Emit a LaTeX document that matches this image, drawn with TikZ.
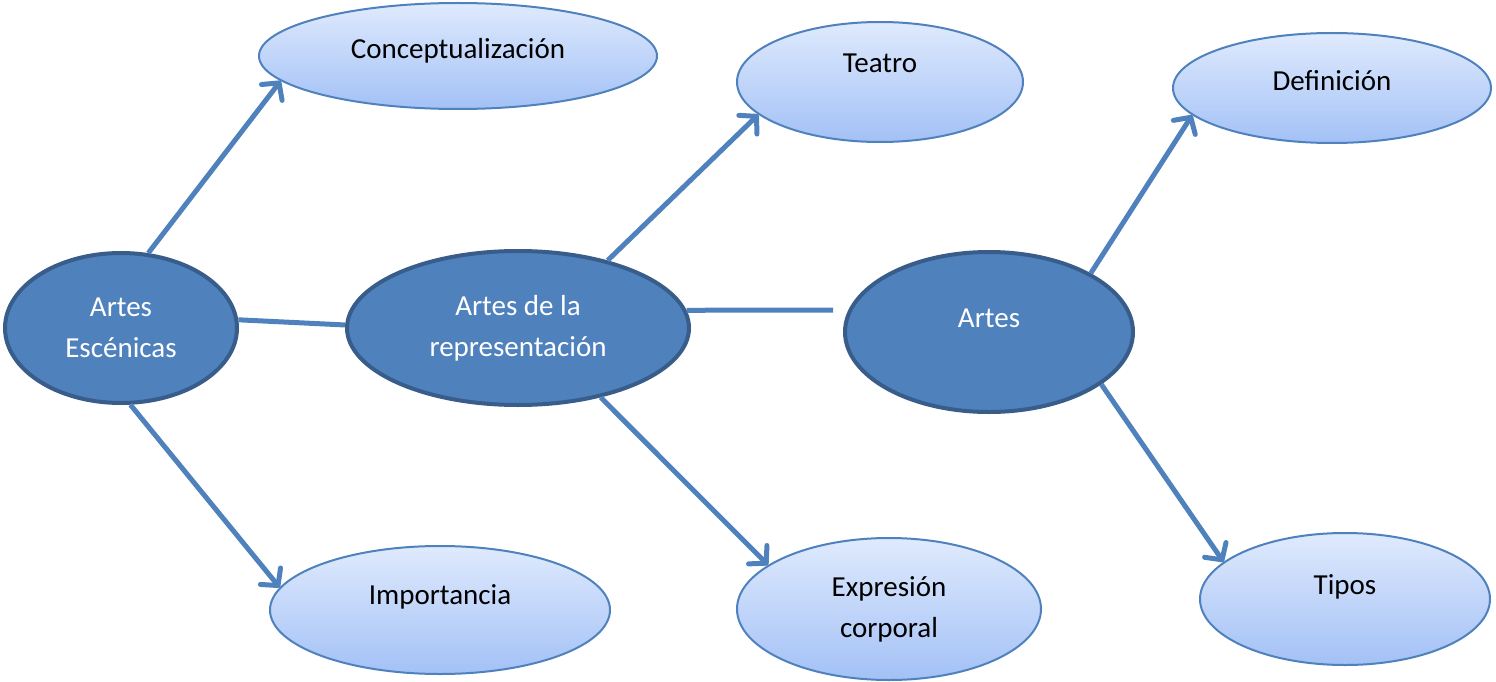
\documentclass[tikz,border=0pt]{standalone}
\usepackage{fontspec}
\setmainfont{Carlito}
\usepackage{tikz}
\usetikzlibrary{arrows.meta, shapes.geometric}

\definecolor{darkfill}{HTML}{4F81BD}
\definecolor{darkline}{HTML}{385D8A}
\definecolor{lighttop}{HTML}{DFEAFD}
\definecolor{lightbot}{HTML}{A3C1F6}

\tikzset{
    mainnode/.style={ellipse, draw=darkline, line width=4pt, fill=darkfill, text=white, align=center, inner sep=0pt},
    subnode/.style={ellipse, draw=darkfill, line width=2pt, top color=lighttop, bottom color=lightbot, align=center, inner sep=0pt},
    link/.style={draw=darkfill, line width=5pt},
    linkarrow/.style={link, -{Straight Barb[length=12pt, width=26pt, round]}}
}

\begin{document}
\begin{tikzpicture}[x=1pt, y=-1pt, font=\fontsize{29}{41}\selectfont]
        \useasboundingbox (0,0) rectangle (1496,682);

        \node[mainnode, minimum width=232, minimum height=150] at (121, 328)   (ae) {Artes\\Escénicas};
        \node[mainnode, minimum width=342, minimum height=154] at (518, 328)   (arep) {Artes de la\\representación};
        \node[mainnode, minimum width=288, minimum height=160] at (989, 332)   (artes) {\raisebox{27pt}{Artes}};

        \node[subnode, minimum width=398, minimum height=106] at (458, 56)    (conc) {\raisebox{15pt}{Conceptualización}};
        \node[subnode, minimum width=340, minimum height=128] at (440, 610)   (imp) {\raisebox{30pt}{Importancia}};
        \node[subnode, minimum width=286, minimum height=120] at (880, 82)    (teatro) {\raisebox{38pt}{Teatro}};
        \node[subnode, minimum width=304, minimum height=142] at (889, 609)   (expr) {Expresión\\corporal};
        \node[subnode, minimum width=318, minimum height=110] at (1332, 88)   (def) {\raisebox{15pt}{Definición}};
        \node[subnode, minimum width=290, minimum height=132] at (1345, 599)  (tipos) {\raisebox{29pt}{Tipos}};

        \coordinate (gap) at (833, 310);

        \draw [linkarrow] (ae.70) -- (conc.188);
        \draw [linkarrow] (ae.277) -- (imp.172);
        \draw [link] (ae.4) -- (arep.179);

        \draw [linkarrow] (arep.37) -- (teatro.195);
        \draw [linkarrow] (arep.320) -- (expr.160);
        \draw [link] (arep.6) -- (gap);

        \draw [linkarrow] (artes.30) -- (def.191);
        \draw [linkarrow] (artes.335) -- (tipos.163);
    \end{tikzpicture}
\end{document}
